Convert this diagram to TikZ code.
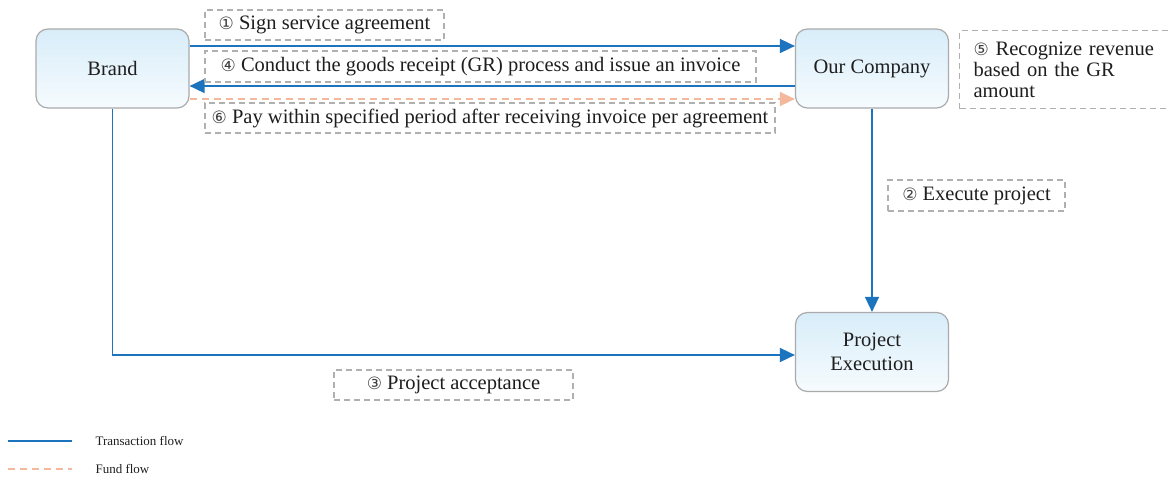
\documentclass[tikz,border=0pt]{standalone}
\usepackage{fontspec}
\setmainfont{Liberation Serif}
\newfontfamily\circfont{DejaVu Sans}
\usetikzlibrary{arrows.meta,positioning}
\definecolor{flowblue}{HTML}{1C73BE}
\definecolor{fundpeach}{HTML}{F4B99C}
\definecolor{boxgray}{HTML}{AAAAAA}
\definecolor{labelgray}{HTML}{B0B0B0}
\definecolor{textdark}{HTML}{1E1E1E}
\definecolor{boxtop}{HTML}{D8EDF9}
\definecolor{boxbottom}{HTML}{F6FBFE}
\newcommand{\circnum}[1]{{\circfont\fontsize{17}{17}\selectfont\color{textdark!85}#1}}
\tikzset{
  party/.style={draw=boxgray, line width=1.2pt, rounded corners=12pt,
    top color=boxtop, bottom color=boxbottom, minimum width=153pt,
    minimum height=79pt, align=center, font=\fontsize{20.5}{24}\selectfont,
    text=textdark},
  steplabel/.style={draw=labelgray, line width=1.1pt, dash pattern=on 6pt off 4pt,
    font=\fontsize{20.5}{21}\selectfont, text=textdark, inner sep=0pt},
  txflow/.style={draw=flowblue, line width=1.6pt,
    -{Triangle[length=15pt,width=14pt]}},
  fundflow/.style={draw=fundpeach, line width=1.4pt, dash pattern=on 7pt off 5pt,
    -{Triangle[length=15pt,width=14pt,fill=fundpeach]}},
  legendtext/.style={font=\fontsize{13}{15}\selectfont, text=textdark, anchor=west}
}
\begin{document}
\begin{tikzpicture}[x=1pt,y=-1pt]
\useasboundingbox (0,0) rectangle (1168,479);
\begin{scope}
\clip (0,0) rectangle (1168,479);

% parties
\node[party] (brand) at (112.5,68.5) {Brand};
\node[party] (company) at (872,68.5) {Our Company};
\node[party] (project) at (872,352) {Project\\Execution};

% flows between the parties
\draw[txflow] (brand.east |- 0,46) -- (company.west |- 0,46);
\draw[txflow] (company.west |- 0,86) -- (brand.east |- 0,86);
\draw[fundflow] (brand.east |- 0,99) -- (company.west |- 0,99);
\draw[txflow] (company.south) -- (project.north);
\coordinate (corner) at (brand.south |- 0,355);
\draw[txflow] (brand.south) -- (corner) -- (project.west |- corner);

% step labels
\node[steplabel, minimum width=239pt, minimum height=30pt] (s1) at (324.5,25)
  {\circnum{①} Sign service agreement};
\node[steplabel, minimum width=551pt, minimum height=31pt] (s4) at (480.5,66.5)
  {\circnum{④} Conduct the goods receipt (GR) process and issue an invoice};
\node[steplabel, minimum width=570pt, minimum height=30pt] (s6) at (490,118)
  {\circnum{⑥} Pay within specified period after receiving invoice per agreement};
\node[steplabel, minimum width=177pt, minimum height=31pt] (s2) at (976.5,195.5)
  {\circnum{②} Execute project};
\node[steplabel, minimum width=239pt, minimum height=30pt] (s3) at (453.5,385)
  {\circnum{③} Project acceptance};
\node[steplabel, anchor=north west, minimum width=225pt, minimum height=78pt,
  text width=197pt, align=left, inner xsep=14pt] (s5) at (959,30)
  {\circnum{⑤} Recognize revenue\\based on the GR\\amount};

% legend
\coordinate (lt1) at (8,441);
\coordinate (lt2) at (72,441);
\coordinate (lf1) at (8,469);
\coordinate (lf2) at (72,469);
\draw[flowblue, line width=1.6pt] (lt1) -- (lt2);
\draw[fundpeach, line width=1.4pt, dash pattern=on 7pt off 5pt] (lf1) -- (lf2);
\node[legendtext] (ltx) at (92,441) {Transaction flow};
\node[legendtext] (lfx) at (92,469) {Fund flow};
\end{scope}
\end{tikzpicture}
\end{document}
